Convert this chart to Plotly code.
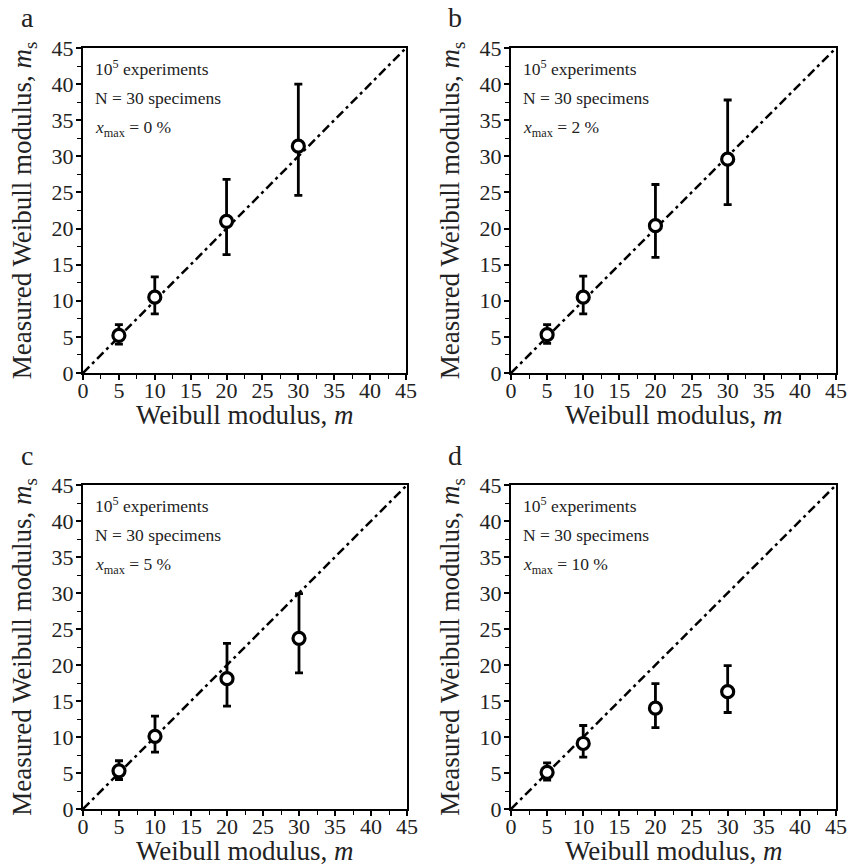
import plotly.graph_objects as go

m_true = [5, 10, 20, 30]

# panel a : x_max = 0 %
ms_a = [5.2, 10.5, 21.0, 31.4]
up_a = [6.7, 13.3, 26.8, 40.0]
lo_a = [4.0, 8.2, 16.4, 24.6]
# panel b : x_max = 2 %
ms_b = [5.3, 10.5, 20.4, 29.6]
up_b = [6.7, 13.4, 26.1, 37.8]
lo_b = [4.1, 8.2, 16.0, 23.3]
# panel c : x_max = 5 %
ms_c = [5.3, 10.1, 18.1, 23.7]
up_c = [6.7, 12.9, 23.0, 29.9]
lo_c = [4.1, 7.9, 14.3, 18.9]
# panel d : x_max = 10 %
ms_d = [5.1, 9.1, 14.0, 16.3]
up_d = [6.4, 11.6, 17.4, 19.9]
lo_d = [4.0, 7.2, 11.3, 13.4]

panel_labels = ["a", "b", "c", "d"]
xmax_labels = ["0 %", "2 %", "5 %", "10 %"]
ticks = [0, 5, 10, 15, 20, 25, 30, 35, 40, 45]
diag = [0, 45]

W, H = 848, 867
FONT = "Liberation Serif, Times New Roman, serif"

# pixel boxes of plot areas (left, right, top, bottom)
boxes = [(83, 406, 48, 373), (511, 836, 48, 373),
         (83, 407, 485, 809), (511, 836, 485, 809)]

data = [(ms_a, up_a, lo_a), (ms_b, up_b, lo_b), (ms_c, up_c, lo_c), (ms_d, up_d, lo_d)]

fig = go.Figure()
layout = dict(width=W, height=H, margin=dict(l=0, r=0, t=0, b=0, autoexpand=False),
              paper_bgcolor="white", plot_bgcolor="white", showlegend=False,
              template="none",
              font=dict(family=FONT, color="black"))
annotations = []

for i, (ms, up, lo) in enumerate(data):
    n = i + 1
    xa = "x" if n == 1 else f"x{n}"
    ya = "y" if n == 1 else f"y{n}"
    L, R, T, B = boxes[i]
    xdom = [L / W, R / W]
    ydom = [1 - B / H, 1 - T / H]
    fig.add_trace(go.Scatter(x=diag, y=diag, mode="lines", xaxis=xa, yaxis=ya,
                             line=dict(color="black", width=2.5, dash="9px,4px,3px,4px"),
                             hoverinfo="skip"))
    fig.add_trace(go.Scatter(
        x=m_true, y=ms, mode="markers", xaxis=xa, yaxis=ya,
        marker=dict(symbol="circle", size=12, color="white",
                    line=dict(color="black", width=3.2)),
        error_y=dict(type="data", symmetric=False,
                     array=[u - v for u, v in zip(up, ms)],
                     arrayminus=[v - l for v, l in zip(ms, lo)],
                     color="black", thickness=2.8, width=4)))
    axcommon = dict(range=[0, 45], tickvals=ticks, ticks="outside", ticklen=5,
                    tickwidth=1.5, tickcolor="black", showline=True, linecolor="black",
                    linewidth=2, mirror=True, showgrid=False, zeroline=False,
                    automargin=False,
                    tickfont=dict(family=FONT, size=22, color="#222"),
                    minor=dict(tickvals=[2.5 + 5 * k for k in range(9)], ticks="outside",
                               ticklen=4, tickwidth=1.2, tickcolor="black"))
    layout["xaxis" if n == 1 else f"xaxis{n}"] = dict(
        axcommon, domain=xdom, anchor=ya, ticklabelstandoff=-8)
    layout["yaxis" if n == 1 else f"yaxis{n}"] = dict(
        axcommon, domain=ydom, anchor=xa, ticklabelstandoff=-2,
        title=dict(text="Measured Weibull modulus, <i>m</i><sub>s</sub>", standoff=12,
                   font=dict(family=FONT, size=27, color="#222")))
    # x-axis title
    annotations.append(dict(text="Weibull modulus, <i>m</i>", xref="paper", yref="paper",
                            x=(L + R) / 2 / W, y=1 - (B + 42) / H, xanchor="center",
                            yanchor="middle", showarrow=False,
                            font=dict(family=FONT, size=27, color="#222")))
    # panel label
    annotations.append(dict(text=panel_labels[i], xref="paper", yref="paper",
                            x=(L - 56) / W, y=1 - (T - 30) / H, xanchor="center",
                            yanchor="middle", showarrow=False,
                            font=dict(family=FONT, size=28, color="#222")))
    lines = ["10<sup>5</sup> experiments", "N = 30 specimens",
             f"<i>x</i><sub>max</sub> = {xmax_labels[i]}"]
    for k, t in enumerate(lines):
        annotations.append(dict(text=t, xref="paper", yref="paper",
                                x=(L + 10) / W, y=1 - (T + 20 + 30 * k) / H,
                                xanchor="left", yanchor="middle", showarrow=False,
                                font=dict(family=FONT, size=17.5, color="#222")))

layout["annotations"] = annotations
fig.update_layout(**layout)
fig.write_html("out.html", config={"displayModeBar": False},
               post_script="document.body.style.margin='0';"
                           "document.body.style.overflow='hidden';")
